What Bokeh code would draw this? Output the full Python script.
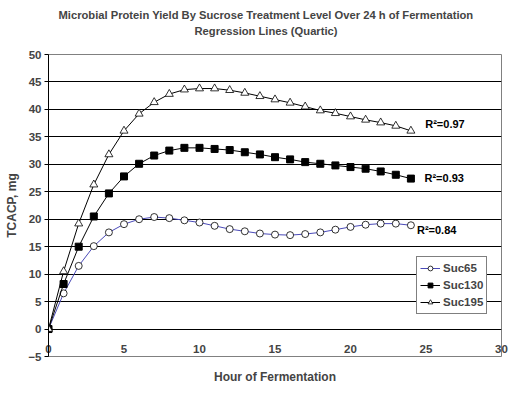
from bokeh.plotting import figure
from bokeh.models import Title, Legend, LegendItem, Range1d, FixedTicker, ColumnDataSource
from bokeh.core.properties import value
from bokeh.embed import file_html
from bokeh.resources import INLINE

hours = list(range(0, 25))
suc65 = [0, 6.5, 11.5, 15.1, 17.6, 19.1, 20.0, 20.4, 20.2, 19.8, 19.4, 18.8, 18.2, 17.8, 17.4,
         17.2, 17.1, 17.3, 17.6, 18.1, 18.6, 19.0, 19.2, 19.2, 18.9]
suc130 = [0, 8.2, 15.0, 20.5, 24.7, 27.8, 30.1, 31.6, 32.5, 33.0, 33.0, 32.8, 32.6, 32.2, 31.8,
          31.3, 30.9, 30.4, 30.1, 29.8, 29.5, 29.2, 28.7, 28.1, 27.4]
suc195 = [0, 10.5, 19.2, 26.3, 31.8, 36.1, 39.2, 41.3, 42.8, 43.6, 43.8, 43.8, 43.5, 43.0, 42.4,
          41.8, 41.2, 40.5, 39.8, 39.3, 38.7, 38.1, 37.6, 37.0, 36.1]
series_names = ["Suc65", "Suc130", "Suc195"]
r2_labels = ["R\u00b2=0.84", "R\u00b2=0.93", "R\u00b2=0.97"]
r2_x = [24.4, 24.9, 24.95]
r2_y = [18.1, 27.5, 37.3]
x_ticks = [0, 5, 10, 15, 20, 25, 30]
y_ticks = [-5, 0, 5, 10, 15, 20, 25, 30, 35, 40, 45, 50]
title_1 = "Microbial Protein Yield By Sucrose Treatment Level Over 24 h of Fermentation"
title_2 = "Regression Lines (Quartic)"

FONT = "Liberation Sans"

p = figure(width=512, height=387, output_backend="svg", toolbar_location=None,
           x_range=Range1d(0, 30), y_range=Range1d(-5, 50),
           title=title_1,
           min_border_left=48, min_border_right=11, min_border_top=54, min_border_bottom=31)
p.title.align = "left"
p.title.offset = 10
p.title.text_font = FONT
p.title.text_font_size = "11.2px"
p.title.text_font_style = "bold"
p.title.standoff = 4
# spacer between the title block and the plot frame
p.add_layout(Title(text=" ", align="center", text_font=FONT, text_font_size="11px",
                   standoff=4), "above")
p.add_layout(Title(text=title_2, align="left", offset=146, text_font=FONT, text_font_size="11.2px",
                   text_font_style="bold", standoff=0), "above")

p.outline_line_color = "#808080"
p.background_fill_color = "white"
p.border_fill_color = "white"

p.xgrid.visible = False
p.ygrid.ticker = FixedTicker(ticks=[0, 5, 10, 15, 20, 25, 30, 35, 40, 45])
p.ygrid.grid_line_color = "black"
p.ygrid.grid_line_alpha = 1.0

for ax in (p.xaxis[0], p.yaxis[0]):
    ax.major_label_text_font = FONT
    ax.major_label_text_font_size = "11.5px"
    ax.major_label_text_font_style = "bold"
    ax.axis_label_text_font = FONT
    ax.axis_label_text_font_size = "12px"
    ax.axis_label_text_font_style = "bold"
    ax.minor_tick_line_color = None
    ax.major_tick_line_color = "black"
    ax.major_tick_out = 4
    ax.major_tick_in = 0

yax = p.yaxis[0]
yax.axis_line_color = "black"
yax.ticker = FixedTicker(ticks=y_ticks)
yax.axis_label = "TCACP, mg"
yax.axis_label_standoff = 6
yax.major_label_standoff = 3

xax = p.xaxis[0]
xax.ticker = FixedTicker(ticks=x_ticks)
xax.axis_line_color = None
xax.major_tick_line_color = None
xax.major_tick_out = 0
xax.major_label_standoff = -12
xax.axis_label = "Hour of Fermentation"
xax.axis_label_standoff = 14

src = ColumnDataSource(dict(h=hours, s65=suc65, s130=suc130, s195=suc195))

l1 = p.line("h", "s65", source=src, line_color="#4a4ab8", line_width=1)
m1 = p.scatter("h", "s65", source=src, marker="circle", size=7, fill_color="white", line_color="black", line_width=0.8)
l2 = p.line("h", "s130", source=src, line_color="black", line_width=1)
m2 = p.scatter("h", "s130", source=src, marker="square", size=7, fill_color="black", line_color="black")
l3 = p.line("h", "s195", source=src, line_color="black", line_width=1)
m3 = p.scatter("h", "s195", source=src, marker="triangle", size=8, fill_color="white", line_color="black", line_width=0.8)

p.text(x=r2_x, y=r2_y, text=r2_labels, text_font=value(FONT), text_font_size="11px",
       text_font_style="bold", text_baseline="middle", text_align="left", text_color="black")

legend = Legend(items=[LegendItem(label=series_names[0], renderers=[l1, m1]),
                       LegendItem(label=series_names[1], renderers=[l2, m2]),
                       LegendItem(label=series_names[2], renderers=[l3, m3])],
                location=(368, 42), label_text_font=FONT, label_text_font_size="11.5px",
                label_text_font_style="bold", border_line_color="black", border_line_width=1,
                background_fill_color="white", background_fill_alpha=1.0,
                glyph_width=20, glyph_height=12, label_height=16, spacing=1, padding=3, margin=0,
                label_standoff=3)
p.add_layout(legend)

open("out.html", "w").write(file_html(p, INLINE))
